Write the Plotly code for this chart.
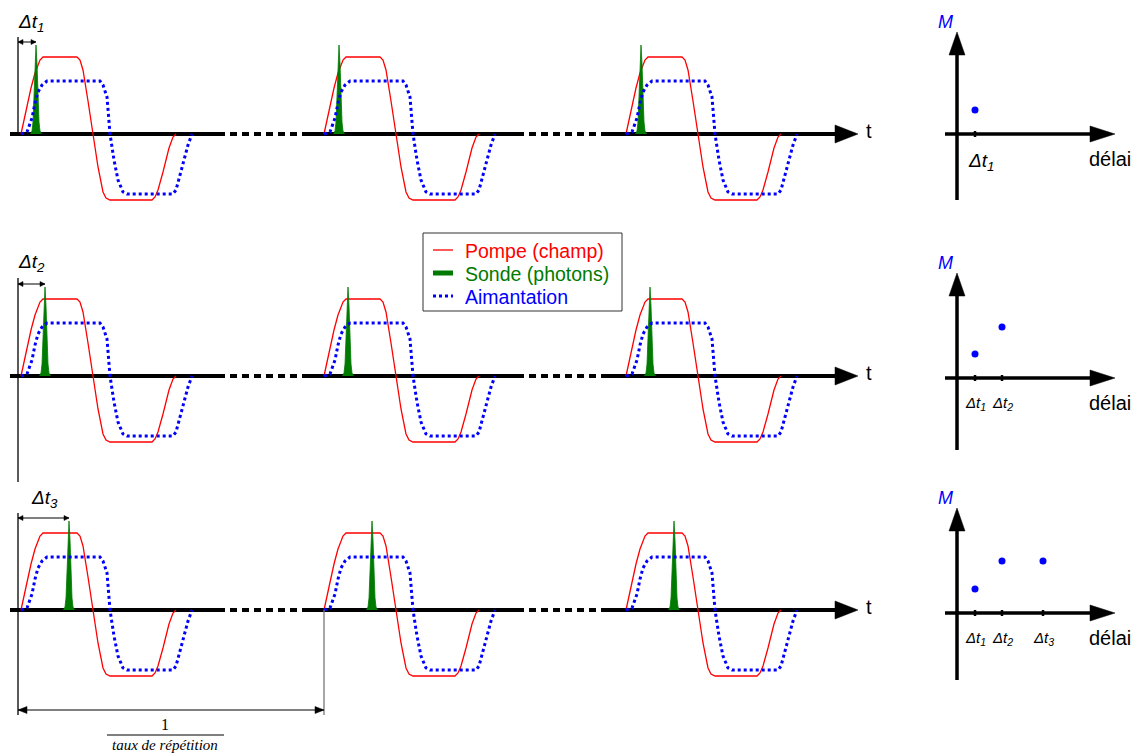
import plotly.graph_objects as go

# ---------------- data ----------------
# pump field (relative time from pulse start, amplitude)
pump_t = [0, 5, 10, 14, 17, 19, 22, 56, 59, 62, 67, 72, 77, 82, 85, 89, 131, 134, 137, 142, 148, 152, 155]
pump_amp = [0, 24, 46, 61, 70, 74, 77, 77, 74, 64, 33, 0, -33, -58, -64, -66, -66, -63, -56, -38, -14, -3, 0]
# magnetisation
mag_t = [0, 6, 11, 14, 17, 21, 26, 79, 82, 86, 89, 93, 97, 102, 106, 152, 155, 159, 167, 171]
mag_amp = [0, 2, 16, 31, 42, 49, 53, 53, 49, 37, 0, -26, -46, -58, -60, -60, -56, -41, -11, 0]
# probe pulse shape
probe_dt = [-5.5, -4, -3, -2, -1, 0, 1, 2, 3, 4, 5.5]
probe_amp = [0, 3, 12, 35, 70, 89, 70, 35, 12, 3, 0]
# probe delays for the three rows
probe_delays = [15, 24, 48]
delay_names = ["1", "2", "3"]
# measured M vs delay (right panels)
M_values = [[24], [24, 51], [24, 52, 52]]
panel_delay_pos = [18, 45, 86]
legend_names = ["Pompe (champ)", "Sonde (photons)", "Aimantation"]

# ---------------- layout constants ----------------
W, H = 1135, 753
row_y = [134, 376, 610]
period_x0 = [21, 324, 626]
axis_solid = [(10, 218), (308, 517), (606, 837)]
axis_gaps = [(218, 308), (517, 606)]
ref_x = 18
panel_x = 957
panel_axis_y = [134, 378, 613]
panel_top = [32, 273, 508]
panel_bottom = [200, 450, 680]

RED = "#FF0000"
GREEN = "#007A00"
BLUE = "#0000FF"
FONT = "Liberation Sans"

fig = go.Figure()
shapes = []
annotations = []


def seg(x0, y0, x1, y1, color="black", width=1.3, dash=None, layer="above"):
    shapes.append(dict(type="line", xref="x", yref="y", x0=x0, y0=y0, x1=x1, y1=y1,
                       line=dict(color=color, width=width, dash=dash), layer=layer))


def tri(pts, color="black", layer="above"):
    path = "M " + " L ".join(f"{x},{y}" for x, y in pts) + " Z"
    shapes.append(dict(type="path", xref="x", yref="y", path=path, fillcolor=color,
                       line=dict(color=color, width=0.5), layer=layer))


def text(x, y, s, size=17, color="black", family=FONT, xanchor="center"):
    annotations.append(dict(x=x, y=y, xref="x", yref="y", text=s, showarrow=False,
                            font=dict(family=family, size=size, color=color),
                            xanchor=xanchor, yanchor="middle"))


for r, ay in enumerate(row_y):
    # time axis
    for a, b in axis_solid:
        seg(a, ay, b, ay, width=4, layer="below")
    for a, b in axis_gaps:
        seg(a, ay, b, ay, width=4, dash="7px,5px", layer="below")
    tri([(858, ay), (835, ay - 9), (835, ay + 9)])
    text(869, ay - 3, "t", size=20)

    for p, x0 in enumerate(period_x0):
        fig.add_trace(go.Scatter(
            x=[x0 + t for t in pump_t], y=[ay - v for v in pump_amp], mode="lines",
            line=dict(color=RED, width=1.3), name=legend_names[0],
            showlegend=False, hoverinfo="skip"))
        d = probe_delays[r]
        fig.add_trace(go.Scatter(
            x=[x0 + d + t for t in probe_dt], y=[ay - v for v in probe_amp], mode="lines",
            fill="toself", fillcolor=GREEN, line=dict(color=GREEN, width=0.8),
            name=legend_names[1], showlegend=False, hoverinfo="skip"))
        fig.add_trace(go.Scatter(
            x=[x0 + t for t in mag_t], y=[ay - v for v in mag_amp], mode="lines",
            line=dict(color=BLUE, width=3, dash="dot"), name=legend_names[2],
            showlegend=False, hoverinfo="skip"))

    # delay arrow
    ax_end = period_x0[0] + probe_delays[r]
    arr_y = ay - 92
    seg(ref_x, arr_y, ax_end, arr_y, width=1)
    tri([(ref_x, arr_y), (ref_x + 5, arr_y - 2.5), (ref_x + 5, arr_y + 2.5)])
    tri([(ax_end, arr_y), (ax_end - 5, arr_y - 2.5), (ax_end - 5, arr_y + 2.5)])

# legend box (drawn by hand to match the reference)
shapes.append(dict(type="rect", xref="x", yref="y", x0=423, y0=233, x1=622, y1=311,
                   line=dict(color="#333333", width=1), fillcolor="white", layer="above"))
leg_y = [250, 273, 296]
leg_col = [RED, GREEN, BLUE]
seg(433, leg_y[0], 453, leg_y[0], color=RED, width=1.3)
seg(433, leg_y[1], 453, leg_y[1], color=GREEN, width=5)
seg(433, leg_y[2], 453, leg_y[2], color=BLUE, width=3, dash="dot")
for i in range(3):
    text(463, leg_y[i] + 1, legend_names[i], size=19.5, color=leg_col[i], xanchor="left")

# reference vertical lines
seg(ref_x, 37, ref_x, row_y[0], width=1.3)
seg(ref_x, 278, ref_x, 482, width=1.3)
seg(ref_x, 513, ref_x, 715, width=1.3)
seg(period_x0[1], row_y[2], period_x0[1], 715, color="#777777", width=1.3)

# delay labels
text(31, 23, "<i>Δt<sub>1</sub></i>", size=19)
text(31, 263, "<i>Δt<sub>2</sub></i>", size=19)
text(44, 499, "<i>Δt<sub>3</sub></i>", size=19)

# period arrow and fraction
py = 710
seg(ref_x, py, period_x0[1], py, width=1)
tri([(ref_x, py), (ref_x + 9, py - 3.5), (ref_x + 9, py + 3.5)])
tri([(period_x0[1], py), (period_x0[1] - 9, py - 3.5), (period_x0[1] - 9, py + 3.5)])
text(165, 724, "1", size=16, family="Liberation Serif")
seg(107, 735, 224, 735, width=1)
text(165, 745, "<i>taux de répétition</i>", size=15, family="Liberation Serif")

# right panels
for r in range(3):
    ay = panel_axis_y[r]
    seg(panel_x, panel_top[r] + 20, panel_x, panel_bottom[r], width=3.5)
    tri([(panel_x, panel_top[r]), (panel_x - 8, panel_top[r] + 23), (panel_x + 8, panel_top[r] + 23)])
    seg(945, ay, 1092, ay, width=3.5)
    tri([(1115, ay), (1090, ay - 8), (1090, ay + 8)])
    n = len(M_values[r])
    xs = [panel_x + panel_delay_pos[i] for i in range(n)]
    for i, x in enumerate(xs):
        seg(x, ay - 3, x, ay + 3, width=2.5)
        if r == 0:
            text(x + 6, ay + 28, f"<i>Δt<sub>{delay_names[i]}</sub></i>", size=19)
        else:
            text(x, ay + 25, f"<i>Δt<sub>{delay_names[i]}</sub></i>", size=15)
    fig.add_trace(go.Scatter(x=xs, y=[ay - m for m in M_values[r]], mode="markers",
                             marker=dict(color=BLUE, size=7), showlegend=False, hoverinfo="skip"))
    text(945, panel_top[r] - 10, "<i>M</i>", size=18, color=BLUE)
    text(1110, ay + 25, "délai", size=20)

fig.update_layout(
    width=W, height=H, margin=dict(l=0, r=0, t=0, b=0),
    paper_bgcolor="white", plot_bgcolor="white",
    xaxis=dict(range=[0, W], visible=False, fixedrange=True),
    yaxis=dict(range=[H, 0], visible=False, fixedrange=True),
    shapes=shapes, annotations=annotations,
    showlegend=False,
)

fig.write_html("out.html", config={"displayModeBar": False},
               post_script="document.body.style.margin='0';")
